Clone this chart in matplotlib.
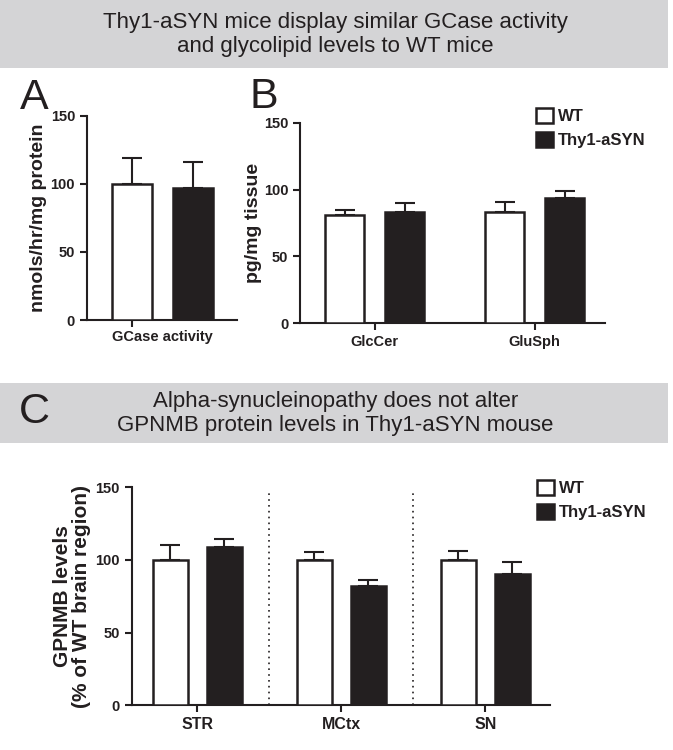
"""Thy1-aSYN vs WT: GCase activity, glycolipids and GPNMB levels."""

import matplotlib as mpl
mpl.use('Agg')
import matplotlib.pyplot as plt
from matplotlib.patches import Rectangle, Patch

plt.rcParams['font.family'] = ['Liberation Sans', 'DejaVu Sans']
plt.rcParams['axes.linewidth'] = 1.5

INK = '#231f20'
GREY = '#d4d4d6'

groups = ['WT', 'Thy1-aSYN']

# Panel A: GCase activity (nmols/hr/mg protein)
a_cats = ['GCase activity']
a_wt = [100]
a_wt_err = [19]
a_tg = [97]
a_tg_err = [19]

# Panel B: glycolipids (pg/mg tissue)
b_cats = ['GlcCer', 'GluSph']
b_wt = [81, 83]
b_wt_err = [4, 8]
b_tg = [83, 94]
b_tg_err = [7, 5]

# Panel C: GPNMB levels (% of WT brain region)
c_cats = ['STR', 'MCtx', 'SN']
c_wt = [100, 100, 100]
c_wt_err = [10, 5.5, 6]
c_tg = [109, 82, 90]
c_tg_err = [5.5, 4, 8.5]

y_ticks = [0, 50, 100, 150]


def bars(ax, wt, wt_err, tg, tg_err, width=0.245, off=0.1875):
    x = list(range(len(wt)))
    xw = [i - off for i in x]
    xt = [i + off for i in x]
    ax.bar(xw, wt, width, color='white', edgecolor=INK, linewidth=1.8, zorder=3)
    ax.bar(xt, tg, width, color=INK, edgecolor=INK, linewidth=1.8, zorder=3)
    for xs, vals, errs in [(xw, wt, wt_err), (xt, tg, tg_err)]:
        ax.errorbar(xs, vals, yerr=[[0] * len(vals), errs], fmt='none',
                    ecolor=INK, elinewidth=1.5, capsize=7, capthick=1.5,
                    zorder=2)
    return xw


def style(ax, ylabel, size=14, xsize=11, pad=2.5):
    ax.spines['top'].set_visible(False)
    ax.spines['right'].set_visible(False)
    for s in ['left', 'bottom']:
        ax.spines[s].set_color(INK)
    ax.set_ylim(0, 150)
    ax.set_yticks(y_ticks)
    ax.tick_params(axis='both', direction='out', length=5, width=1.5,
                   colors=INK, labelsize=10.5)
    ax.tick_params(axis='x', labelsize=xsize)
    for lab in ax.get_yticklabels() + ax.get_xticklabels():
        lab.set_fontweight('bold')
    ax.set_ylabel(ylabel, fontsize=size, fontweight='bold', color=INK,
                  labelpad=pad)


def legend(ax, x, y):
    handles = [Patch(facecolor='white', edgecolor=INK, linewidth=1.8),
               Patch(facecolor=INK, edgecolor=INK, linewidth=1.8)]
    leg = ax.legend(handles, groups, loc='upper left', bbox_to_anchor=(x, y),
                    bbox_transform=ax.figure.transFigure, frameon=False,
                    handlelength=1.0, handleheight=1.0, handletextpad=0.3,
                    labelspacing=0.45, borderpad=0, borderaxespad=0,
                    prop={'weight': 'bold', 'size': 12})
    for t in leg.get_texts():
        t.set_color(INK)


fig = plt.figure(figsize=(6.73, 7.5), dpi=100, facecolor='white')

# Grey title banners.
fig.patches.append(Rectangle((0, 0.909), 0.993, 0.091, transform=fig.transFigure,
                             facecolor=GREY, edgecolor='none', zorder=0))
fig.patches.append(Rectangle((0, 0.409), 0.993, 0.081, transform=fig.transFigure,
                             facecolor=GREY, edgecolor='none', zorder=0))
fig.text(0.498, 0.954, 'Thy1-aSYN mice display similar GCase activity\n'
         'and glycolipid levels to WT mice', ha='center', va='center',
         fontsize=16, color=INK, linespacing=1.2)
fig.text(0.498, 0.449, 'Alpha-synucleinopathy does not alter\n'
         'GPNMB protein levels in Thy1-aSYN mouse', ha='center', va='center',
         fontsize=16, color=INK, linespacing=1.2)
fig.text(0.028, 0.451, 'C', ha='left', va='center', fontsize=31, color=INK)
fig.text(0.03, 0.869, 'A', ha='left', va='center', fontsize=31, color=INK)
fig.text(0.37, 0.871, 'B', ha='left', va='center', fontsize=31, color=INK)

# Panel A.
ax_a = fig.add_axes([0.129, 0.5733, 0.223, 0.2724])
xw = bars(ax_a, a_wt, a_wt_err, a_tg, a_tg_err, width=0.25, off=0.19)
ax_a.set_xlim(-0.473, 0.465)
ax_a.set_xticks(xw)
ax_a.set_xticklabels([''])
style(ax_a, 'nmols/hr/mg protein')
ax_a.text(0.0, -0.05, a_cats[0], transform=ax_a.get_xaxis_transform(),
          ha='center', va='top', fontsize=10.5, fontweight='bold', color=INK)

# Panel B.
ax_b = fig.add_axes([0.4458, 0.569, 0.4532, 0.2674])
bars(ax_b, b_wt, b_wt_err, b_tg, b_tg_err)
ax_b.set_xlim(-0.466, 1.44)
ax_b.set_xticks(range(len(b_cats)))
ax_b.set_xticklabels(b_cats)
style(ax_b, 'pg/mg tissue', xsize=10.5, pad=1)
legend(ax_b, 0.797, 0.856)

# Panel C.
ax_c = fig.add_axes([0.1957, 0.0596, 0.6213, 0.2907])
bars(ax_c, c_wt, c_wt_err, c_tg, c_tg_err, width=0.243)
ax_c.vlines([0.5, 1.5], 0, 146, colors=INK, linestyles=(0, (1, 2.5)),
            linewidth=1.2)
ax_c.set_xlim(-0.456, 2.447)
ax_c.set_xticks(range(len(c_cats)))
ax_c.set_xticklabels(c_cats)
style(ax_c, 'GPNMB levels\n(% of WT brain region)', size=15, xsize=11.5,
      pad=3.5)
ax_c.yaxis.label.set_linespacing(1.0)
legend(ax_c, 0.798, 0.36)

fig.savefig('out.png', dpi=100, facecolor='white')
